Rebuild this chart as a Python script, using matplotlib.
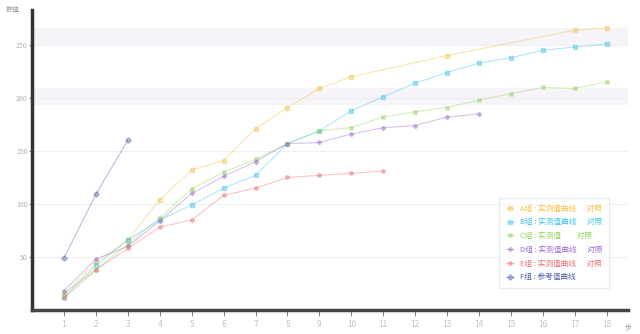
import matplotlib
matplotlib.use("Agg")
from matplotlib import pyplot as plt

# x categories
steps = list(range(1, 19))
step_labels = [str(s) for s in steps]

# series values, None = no point
gold = [14, 45, 66, 104, 132, 141, 171, 191, 209, 220, None, None, 240, None, None, None, 264, 266]
cyan = [12, 42, 66, 85, 99, 115, 127, 157, 169, 188, 201, 214, 224, 233, 238, 245, 248, 251]
green = [16, 38, 62, 87, 114, 130, 142, 157, 169, 172, 182, 187, 191, 198, 204, 210, 209, 215]
purple = [18, 48, 60, 84, 110, 126, 140, 157, 158, 166, 172, 174, 182, 185, None, None, None, None]
red = [11, 38, 58, 78, 85, 108, 115, 125, 127, 129, 131, None, None, None, None, None, None, None]
slate = [49, 109, 160, None, None, None, None, None, None, None, None, None, None, None, None, None, None, None]

names = ["A组 : 实测值曲线      对照", "B组 : 实测值曲线      对照", "C组 : 实测值         对照",
         "D组 : 实测值曲线      对照", "E组 : 实测值曲线      对照", "F组 : 参考值曲线"]
colors = ["#f2c03c", "#3cc0e6", "#92d45c", "#9a6ad0", "#ee6f6f", "#4d5fa8"]
markers = ["s", "s", "X", "P", "h", "D"]

bands = [(193, 209), (250, 266)]

plt.rcParams['font.family'] = ['Noto Sans CJK SC', 'DejaVu Sans']

fig = plt.figure(figsize=(6.4, 3.34), dpi=100)
ax = fig.add_axes([0.05, 0.072, 0.931, 0.898])

for lo, hi in bands:
    ax.axhspan(lo, hi, color="#f1ecf5", alpha=0.6, lw=0)

series = [gold, cyan, green, purple, red, slate]
for vals, name, c, m in zip(series, names, colors, markers):
    xs = [x for x, v in zip(steps, vals) if v is not None]
    ys = [v for v in vals if v is not None]
    ax.plot(xs, ys, color=c, alpha=0.4, lw=0.8, marker=m, ms=2.8,
            markerfacecolor=c, markeredgecolor=c, label=name)

ax.set_xlim(0, 18.66)
ax.set_ylim(0, 283)
ax.set_xticks(steps)
ax.set_xticklabels(step_labels, fontsize=6, color="#c4c4c4")
ax.set_yticks([50, 100, 150, 200, 250])
ax.set_yticklabels(["50", "100", "150", "200", "250"], fontsize=5, color="#b0b0b0")
ax.tick_params(axis="x", length=4, width=0.8, color="#888888", pad=3)
ax.tick_params(axis="y", length=2, width=0.8, color="#888888", pad=1)
ax.grid(axis="y", color="#f0f0f0", lw=0.8)
ax.set_axisbelow(True)

for s in ["top", "right"]:
    ax.spines[s].set_visible(False)
ax.spines["left"].set_linewidth(2.5)
ax.spines["left"].set_color("#333333")
ax.spines["bottom"].set_linewidth(2.5)
ax.spines["bottom"].set_color("#444444")

ax.text(-0.02, 1.0, "数值", transform=ax.transAxes, fontsize=5, color="#999999",
        ha="right", va="center")
ax.text(1.0, -0.045, "步", transform=ax.transAxes, fontsize=5, color="#999999",
        ha="center", va="top")

leg = ax.legend(loc="lower right", bbox_to_anchor=(0.975, 0.06), fontsize=5.5,
                frameon=True, fancybox=False, edgecolor="#e6e6e6",
                labelspacing=0.75, handlelength=1.0, borderpad=0.9)
for t, c in zip(leg.get_texts(), colors):
    t.set_color(c)

fig.savefig("out.png", dpi=100)
